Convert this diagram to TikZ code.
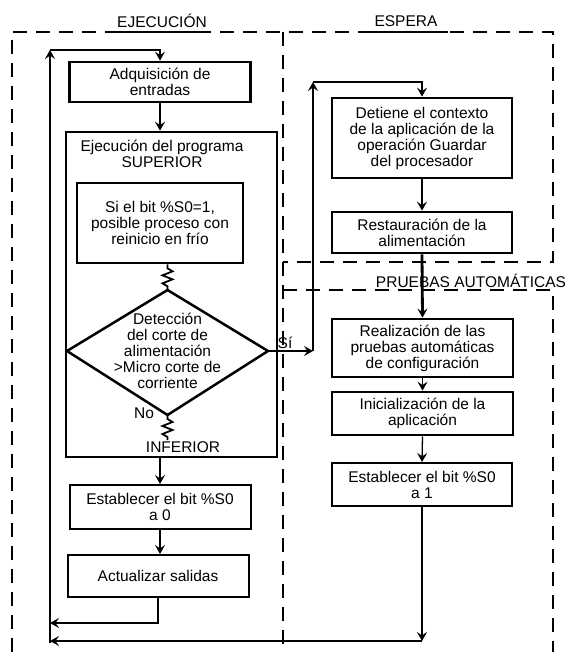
\documentclass[tikz,border=0pt]{standalone}
\usepackage{fontspec}
\setmainfont{Liberation Sans}
\usetikzlibrary{arrows.meta}

\begin{document}
\begin{tikzpicture}[x=1pt,y=-1pt,
  txt/.style={font=\fontsize{15.5}{16}\selectfont, align=center, inner sep=0pt},
  boxa/.style={txt, draw, line width=2.7pt},
  boxb/.style={txt, draw, line width=2pt},
  thickflow/.style={line width=2.8pt},
  thinflow/.style={line width=1.3pt},
  tip/.style={-{Stealth[length=9pt,width=10pt,inset=3.5pt]}},
  region/.style={line width=1.2pt, dash pattern=on 14pt off 9pt},
  zig/.style={line width=1.8pt, line join=miter},
]
\useasboundingbox (0,0) rectangle (572,652);
\fill[white] (0,0) rectangle (572,652);

% dashed phase regions
\draw[region] (12,652) -- (12,32) -- (553,32) -- (553,262) -- (283,262);
\draw[region] (283,32) -- (283,652);
\draw[region] (283,290) -- (553,290) -- (553,652);
\draw[line width=1.2pt] (115,32) -- (208,32) (365,32) -- (448,32);

% phase titles
\node[txt] (lbl1) at (162,21) {EJECUCIÓN};
\node[txt] (lbl2) at (406,21) {ESPERA};
\node[txt] (lbl3) at (471,281) {PRUEBAS AUTOMÁTICAS};

% execution column
\node[boxa, minimum width=181pt, minimum height=40pt] (adq) at (160,82) {Adquisición de\\entradas};
\node[boxa, minimum width=211pt, minimum height=325pt] (ejec) at (171.5,294.5) {};
\node[txt] (sup) at (162,154) {Ejecución del programa\\SUPERIOR};
\node[boxa, minimum width=166pt, minimum height=80pt] (si) at (160,223) {Si el bit \%S0=1,\\posible proceso con\\reinicio en frío};

% decision diamond
\coordinate (dtop) at (167.5,290);
\coordinate (dright) at (268,351);
\coordinate (dbot) at (167.5,415);
\coordinate (dleft) at (67,351);
\draw[line width=2.5pt, line join=miter] (dtop) -- (dright) -- (dbot) -- (dleft) -- cycle;
\node[txt] (dtext) at (167.5,351) {Detección\\del corte de\\alimentación\\>Micro corte de\\corriente};
\node[txt] (no) at (144,413) {No};
\node[txt] (inf) at (183,447) {INFERIOR};
\node[txt] (silbl) at (285,343) {Sí};

\node[boxb, minimum width=181pt, minimum height=44pt] (est0) at (160,507) {Establecer el bit \%S0\\a 0};
\node[boxb, minimum width=181pt, minimum height=42pt] (act) at (158,576) {Actualizar salidas};

% waiting / self-test column
\node[boxa, minimum width=180pt, minimum height=80pt] (det) at (422,138) {Detiene el contexto\\de la aplicación de la\\operación Guardar\\del procesador};
\node[boxa, minimum width=180pt, minimum height=41pt] (rest) at (422,232.5) {Restauración de la\\alimentación};
\node[boxa, minimum width=181pt, minimum height=58pt] (real) at (422.5,348) {Realización de las\\pruebas automáticas\\de configuración};
\node[boxa, minimum width=181pt, minimum height=43pt] (ini) at (422.5,413.5) {Inicialización de la\\aplicación};
\node[boxb, minimum width=180pt, minimum height=43pt] (est1) at (422,484.5) {Establecer el bit \%S0\\a 1};

% loop corners
\coordinate (lb) at (50,643);
\coordinate (lt) at (50,50);
\coordinate (l1) at (50,623);
\coordinate (l2) at (50,641);
\coordinate (rt) at (313,82);
\coordinate (rb) at (422,641);

% main cycle
\draw[thickflow, tip] (lb) -- (lt);
\draw[thickflow, tip] (lt) -| (adq.north);
\draw[thickflow, tip] (adq.south) -- (adq.south |- ejec.north);
\draw[zig] (si.south -| dtop) -- ++(0,4) -- ++(5,3) -- ++(-10,4) -- ++(10,4) -- ++(-10,4) -- ++(5,3) -- (dtop);
\draw[zig] (dbot) -- ++(0,4) -- ++(5,3) -- ++(-10,4) -- ++(10,4) -- ++(-10,4) -- ++(5,3) -- ++(0,3);
\draw[thickflow, tip] (ejec.south -| est0) -- (est0.north);
\draw[thinflow, tip] (est0.south) -- (est0.south |- act.north);
\draw[thinflow, tip] (act.south) |- (l1);

% power-cut branch
\draw[thinflow, tip] (dright) -- (dright -| rt);
\draw[thickflow, tip] (dright -| rt) -- (rt);
\draw[thickflow, tip] (rt) -| (det.north);
\draw[thickflow, tip] (det.south) -- (rest.north);
\draw[thickflow, tip] (rest.south) -- (real.north);
\draw[thinflow, tip] (real.south) -- (ini.north);
\draw[thinflow, tip] (ini.south) -- (est1.north);
\draw[thinflow, tip] (est1.south) -- (rb);
\draw[thinflow, tip] (rb) -- (l2);
\end{tikzpicture}
\end{document}
